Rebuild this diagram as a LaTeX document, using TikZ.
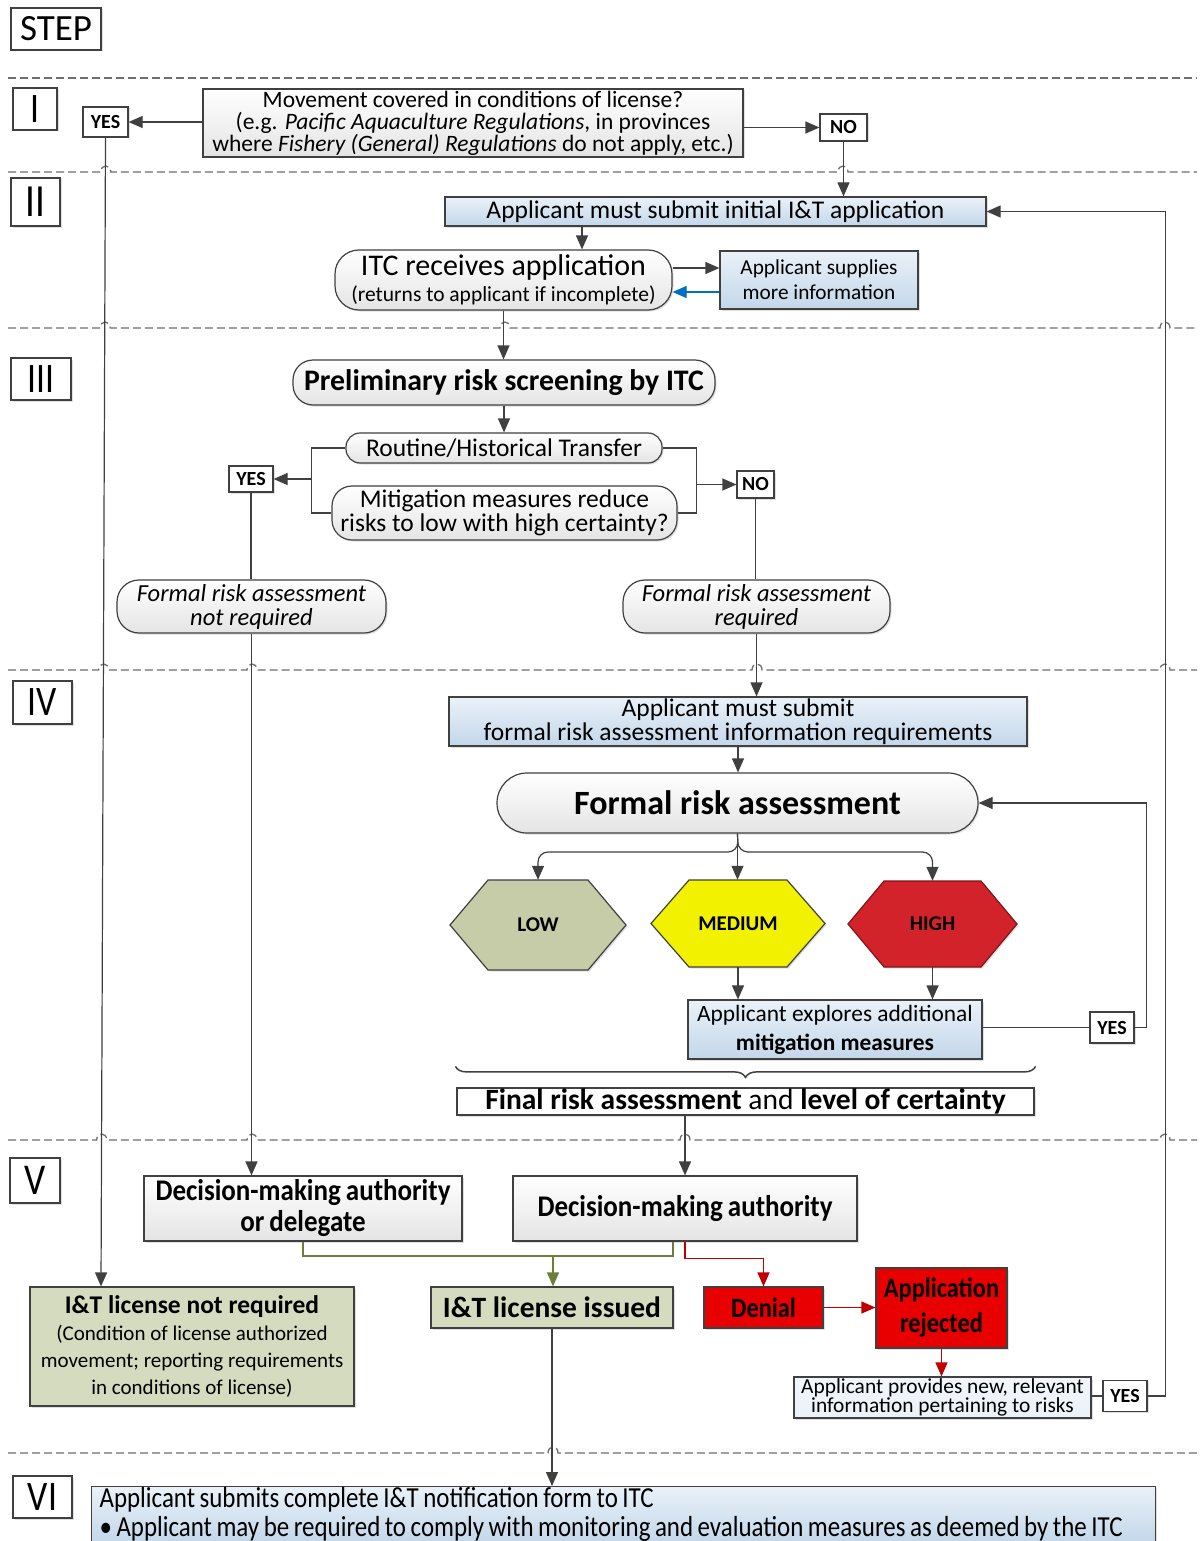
\documentclass[tikz,border=0pt]{standalone}
\usepackage{fontspec}
\setmainfont{Carlito}
\usetikzlibrary{arrows.meta,shadows,calc,decorations.pathreplacing}
\definecolor{lc}{HTML}{404040}
\definecolor{blueT}{HTML}{EAF1F8}
\definecolor{blueB}{HTML}{C3D7EA}
\definecolor{grayB}{HTML}{E4E4E4}
\definecolor{oliveF}{HTML}{D5DBBE}
\definecolor{oliveL}{HTML}{6E7D38}
\definecolor{lowF}{HTML}{C6CBA8}
\definecolor{medF}{HTML}{F2F200}
\definecolor{highF}{HTML}{D2232A}
\definecolor{redF}{HTML}{E80000}
\definecolor{redL}{HTML}{C00000}
\definecolor{blueL}{HTML}{0070C0}
\definecolor{dashC}{HTML}{6E6E6E}
\newcommand\fz[2]{\fontsize{#1}{#2}\selectfont}
\newcommand\cond[1]{\addfontfeature{FakeStretch=#1}}
\newcommand\spc[1]{\spaceskip #1\relax\xspaceskip #1\relax}
\newcommand\hop[2]{-- (#1-5,#2) .. controls (#1-5,#2-8) and (#1+5,#2-8) .. (#1+5,#2)}
\newcommand\hexagon[6]{\path[#6] (#1-#3/2,#2) -- (#1-#3/2+#5,#2-#4/2) -- (#1+#3/2-#5,#2-#4/2) -- (#1+#3/2,#2) -- (#1+#3/2-#5,#2+#4/2) -- (#1-#3/2+#5,#2+#4/2) -- cycle;}
\begin{document}
\begin{tikzpicture}[x=1pt,y=-1pt,
  shd/.style={drop shadow={shadow xshift=1.5pt,shadow yshift=-1.5pt,opacity=0.25}},
  box/.style={draw=lc, line width=1.2pt, inner sep=0pt, align=center, text=black, shd},
  sz/.style 2 args={minimum width=#1pt, minimum height=#2pt},
  bluebox/.style={box, top color=blueT, bottom color=blueB},
  wbox/.style={box, top color=white, bottom color=grayB},
  rbox/.style={wbox, rounded corners=#1pt},
  yn/.style={box, fill=white, font=\bfseries\fz{20}{20}},
  steplab/.style={box, fill=white},
  conn/.style={draw=lc, line width=1.2pt},
  arr/.style={conn, -{Triangle[length=14pt,width=12pt]}},
  dashline/.style={draw=dashC, line width=1.3pt, dash pattern=on 8pt off 4pt},
  hexs/.style={line width=1.2pt, shd}]
\useasboundingbox (0,0) rectangle (1202,1541);
\fill[white] (0,0) rectangle (1202,1541);

% dashed separators
\draw[dashline] (8,78) -- (1197,78);
\draw[dashline] (8,172) \hop{105.8}{172} \hop{843}{172} -- (1197,172);
\draw[dashline] (8,328) \hop{105.2}{328} \hop{505}{328} \hop{1165}{328} -- (1197,328);
\draw[dashline] (8,670) \hop{103.7}{670} \hop{252}{670} \hop{757}{670} \hop{1165}{670} -- (1197,670);
\draw[dashline] (8,1140) \hop{101.7}{1140} \hop{252}{1140} \hop{685}{1140} \hop{1165}{1140} -- (1197,1140);
\draw[dashline] (8,1453) \hop{553}{1453} -- (1197,1453);

% step labels
\node[steplab, sz={90}{42}, font=\fz{37}{37}] (step) at (56,29) {STEP};
\node[steplab, sz={44}{42}, font=\fz{42}{42}\cond{0.85}] (s1) at (35,109) {I};
\node[steplab, sz={49}{48}, font=\fz{46}{46}\cond{0.85}] (s2) at (35.5,202) {II};
\node[steplab, sz={60}{42}, font=\fz{42}{42}\cond{0.85}] (s3) at (41,379) {III};
\node[steplab, sz={59}{43}, font=\fz{42}{42}\cond{0.85}] (s4) at (42.5,702.5) {IV};
\node[steplab, sz={50}{45}, font=\fz{44}{44}\cond{0.85}] (s5) at (35,1180.5) {V};
\node[steplab, sz={59}{42}, font=\fz{42}{42}\cond{0.85}] (s6) at (42.5,1497) {VI};

% step I
\node[wbox, sz={540}{68}, font=\fz{23.5}{22}] (q1) at (473,123) {Movement covered in conditions of license?\\(e.g. \textit{Pacific Aquaculture Regulations}, in provinces\\where \textit{Fishery (General) Regulations} do not apply, etc.)};
\node[yn, sz={45}{30}] (yes1) at (105.5,122) {YES};
\node[yn, sz={47}{27}] (no1) at (843.5,127.5) {NO};

% step II
\node[bluebox, sz={541}{29}, font=\fz{25.5}{26}] (initapp) at (715.5,211.5) {Applicant must submit initial I\&T application};
\node[rbox=24, sz={337}{60}, font=\fz{21.5}{26}] (itc) at (503.5,280) {{\fz{30}{26}ITC receives application}\\(returns to applicant if incomplete)};
\node[bluebox, sz={198}{58}, font=\fz{21.3}{25}] (supp) at (819,280) {Applicant supplies\\more information};

% step III
\node[rbox=20, sz={422}{45}, font=\bfseries\fz{29.8}{30}] (prelim) at (504,382.5) {Preliminary risk screening by ITC};
\node[rbox=14, sz={316}{30}, font=\fz{25.5}{26}] (routine) at (504,448) {Routine/Historical Transfer};
\node[rbox=20, sz={345}{54}, font=\fz{25.5}{23.5}] (mitig) at (504.5,513) {Mitigation measures reduce\\risks to low with high certainty?};
\node[yn, sz={44}{26}] (yes3) at (251,479) {YES};
\node[yn, sz={37}{27}] (no3) at (755.5,484.5) {NO};
\node[rbox=22, sz={269}{53}, font=\itshape\fz{24.5}{24}] (frnr) at (251.5,606.5) {Formal risk assessment\\not required};
\node[rbox=22, sz={267}{53}, font=\itshape\fz{24.5}{24}] (frr) at (756.5,606.5) {Formal risk assessment\\required};

% step IV
\node[bluebox, sz={578}{49}, font=\fz{25.5}{23.5}] (frinfo) at (738,721.5) {Applicant must submit\\formal risk assessment information requirements};
\node[rbox=30, sz={481}{60}, font=\bfseries\fz{34}{34}] (fra) at (737.5,803) {Formal risk assessment};
\hexagon{538}{925}{176}{90}{38}{hexs, draw=lc, fill=lowF}
\hexagon{738}{923.5}{174}{87}{38}{hexs, draw=lc, fill=medF}
\hexagon{932.5}{924}{169}{86}{36}{hexs, draw=highF!60!black, fill=highF}
\node[sz={176}{90}, inner sep=0pt, font=\bfseries\fz{21}{21}] (low) at (538,925) {LOW};
\node[sz={174}{87}, inner sep=0pt, font=\bfseries\fz{21}{21}] (med) at (738,923.5) {MEDIUM};
\node[sz={169}{86}, inner sep=0pt, font=\bfseries\fz{21}{21}] (high) at (932.5,924) {HIGH};
\node[bluebox, sz={294}{59}, font=\fz{23.4}{29}] (explore) at (835,1029.5) {Applicant explores additional\\\textbf{mitigation measures}};
\node[yn, sz={44}{31}] (yes4) at (1112,1027.5) {YES};
\node[box, fill=white, sz={577}{27}, font=\fz{29.5}{29}] (final) at (745.5,1101.5) {\textbf{Final risk assessment} and \textbf{level of certainty}};

% step V
\node[wbox, sz={318}{65}, font=\bfseries\fz{30}{31}\cond{0.9}] (dmad) at (303,1208.5) {\spc{5pt}Decision-making authority\\\spc{5pt}or delegate};
\node[wbox, sz={344}{65}, font=\bfseries\fz{30}{31}\cond{0.9}] (dma) at (685,1208.5) {\spc{5pt}Decision-making authority};
\node[box, fill=oliveF, sz={324}{119}, font=\fz{21}{27}] (notreq) at (192,1346.5) {{\bfseries\fz{25.5}{27}I\&T license not required}\\(Condition of license authorized\\movement; reporting requirements\\in conditions of license)};
\node[box, fill=oliveF, sz={242}{41}, font=\bfseries\fz{29.5}{30}] (issued) at (552,1307.5) {I\&T license issued};
\node[box, fill=redF, sz={119}{41}, font=\bfseries\fz{28}{28}\cond{0.87}] (denial) at (763.5,1307.5) {Denial};
\node[box, fill=redF, sz={131}{80}, font=\bfseries\fz{28}{35}\cond{0.87}] (rej) at (941.5,1308) {Application\\rejected};
\node[box, top color=blueT!60!white, bottom color=blueT, sz={297}{41}, font=\fz{21.4}{19}] (prov) at (942.5,1397.5) {Applicant provides new, relevant\\information pertaining to risks};
\node[yn, sz={44}{31}] (yes5) at (1125,1396) {YES};

% step VI
\node[bluebox, anchor=north west, minimum width=1064pt, minimum height=55pt, text width=1048pt, inner xsep=8pt, inner ysep=0pt, align=left, font=\fz{29}{29}\cond{0.86}] (notif) at (91,1486) {\spc{4.5pt}Applicant submits complete I\&T notification form to ITC\\\textbullet{} Applicant may be required to comply with monitoring and evaluation measures as deemed by the ITC};

% connectors
\draw[arr] (q1.west |- yes1.east) -- (yes1.east);
\draw[arr] (q1.east |- no1.west) -- (no1.west);
\draw[arr] (no1.south) -- (no1.south |- initapp.north);
\draw[arr] (yes1.south) -- ([xshift=-91pt]notreq.north);
\coordinate (a1) at ([xshift=-133.5pt]initapp.south);
\draw[arr] (a1) -- (a1 |- itc.north);
\coordinate (i1) at ([yshift=12pt]itc.east);
\draw[arr] (i1) -- (i1 -| supp.west);
\coordinate (sp1) at ([yshift=-12pt]supp.west);
\draw[arr, draw=blueL] (sp1) -- (sp1 -| itc.east);
\draw[arr] (itc.south) -- (itc.south |- prelim.north);
\draw[arr] (prelim.south) -- (routine.north);
\draw[conn] (routine.west) -- ++(-34,0) coordinate (blt) |- (mitig.west);
\draw[arr] (blt |- yes3.east) -- (yes3.east);
\draw[conn] (routine.east) -- ++(34,0) coordinate (brt) |- (mitig.east);
\draw[arr] (brt |- no3.west) -- (no3.west);
\draw[conn] (yes3.south) -- (yes3.south |- frnr.north);
\draw[arr] (frnr.south) -- (frnr.south |- dmad.north);
\draw[conn] (no3.south) -- (no3.south |- frr.north);
\draw[arr] (frr.south) -- (frr.south |- frinfo.north);
\draw[arr] (frinfo.south) -- (frinfo.south |- fra.north);
\coordinate (fj) at (738,852);
\draw[arr] (fra.south) -- (fra.south |- med.north);
\draw[arr, rounded corners=10pt] (fra.south) -- (fj) -| (low.north);
\draw[arr, rounded corners=10pt] (fra.south) -- (fj) -| (high.north);
\draw[arr] (med.south) -- (med.south |- explore.north);
\draw[arr] (high.south) -- (high.south |- explore.north);
\draw[conn] (yes4.west -| explore.east) -- (yes4.west);
\draw[arr] (yes4.east) -- ++(12,0) |- (fra.east);
\draw[draw=lc, line width=1.5pt, decorate, decoration={brace, mirror, amplitude=11pt}] ([xshift=-1pt,yshift=21pt]final.north west) -- ([xshift=1pt,yshift=21pt]final.north east);
\draw[arr] (final.south -| dma.north) -- (dma.north);
\coordinate (oj) at (553,1256);
\draw[conn, draw=oliveL] (dmad.south) |- (oj);
\coordinate (d1) at ([xshift=-12pt]dma.south);
\draw[conn, draw=oliveL] (d1) |- (oj);
\draw[arr, draw=oliveL] (oj) -- (oj |- issued.north);
\draw[arr, draw=redL] (dma.south) -- ++(0,17) -| (denial.north);
\draw[arr, draw=redL] (denial.east) -- (denial.east -| rej.west);
\draw[arr, draw=redL] (rej.south) -- (rej.south |- prov.north);
\draw[conn] (prov.east |- yes5.west) -- (yes5.west);
\draw[arr] (yes5.east) -- ++(18,0) |- (initapp.east);
\draw[arr] (issued.south) -- (issued.south |- notif.north);
\end{tikzpicture}
\end{document}
